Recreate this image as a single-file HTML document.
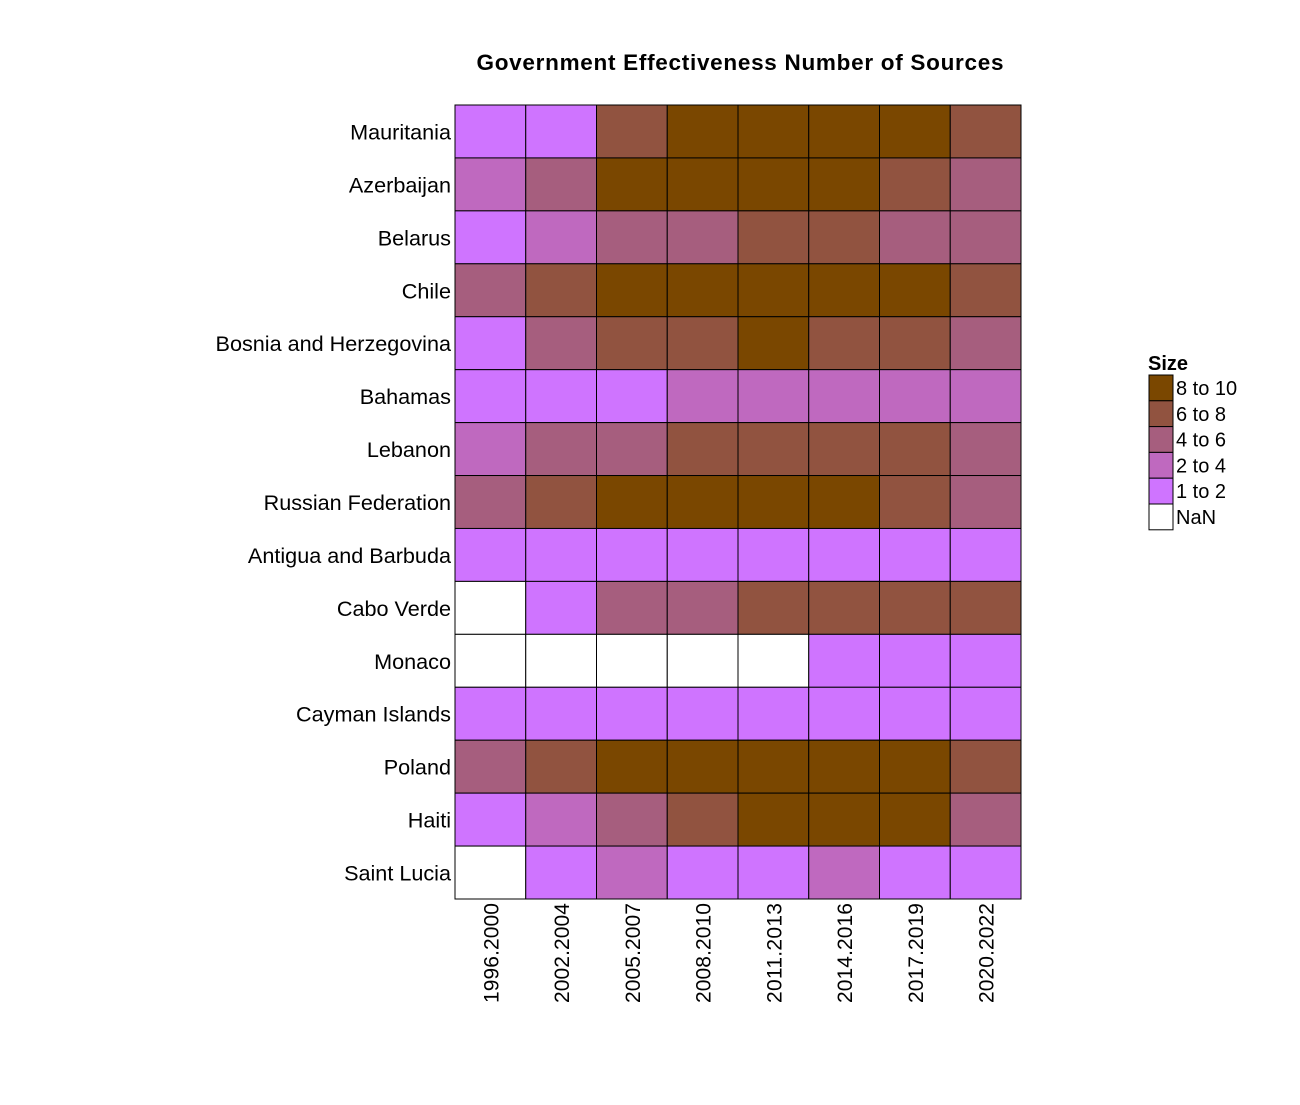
<!DOCTYPE html>
<html><head><meta charset="utf-8"><style>
body{margin:0;background:#fff;font-family:"Liberation Sans",Arial,sans-serif}
</style></head><body>
<svg id="c" width="1300" height="1100" xmlns="http://www.w3.org/2000/svg">
<text x="740" y="70" text-anchor="middle" font-size="22.5" font-weight="bold" textLength="527">Government Effectiveness Number of Sources</text>
<g id="cells"></g><g id="ylab"></g><g id="xlab"></g><g id="legend"></g>
</svg>
<script>
const countries=["Mauritania","Azerbaijan","Belarus","Chile","Bosnia and Herzegovina","Bahamas","Lebanon","Russian Federation","Antigua and Barbuda","Cabo Verde","Monaco","Cayman Islands","Poland","Haiti","Saint Lucia"];
const periods=["1996.2000","2002.2004","2005.2007","2008.2010","2011.2013","2014.2016","2017.2019","2020.2022"];
const N=NaN;
const values=[
[1.5,1.5,7,9,9,9,9,7],
[3,5,9,9,9,9,7,5],
[1.5,3,5,5,7,7,5,5],
[5,7,9,9,9,9,9,7],
[1.5,5,7,7,9,7,7,5],
[1.5,1.5,1.5,3,3,3,3,3],
[3,5,5,7,7,7,7,5],
[5,7,9,9,9,9,7,5],
[1.5,1.5,1.5,1.5,1.5,1.5,1.5,1.5],
[N,1.5,5,5,7,7,7,7],
[N,N,N,N,N,1.5,1.5,1.5],
[1.5,1.5,1.5,1.5,1.5,1.5,1.5,1.5],
[5,7,9,9,9,9,9,7],
[1.5,3,5,7,9,9,9,5],
[N,1.5,3,1.5,1.5,3,1.5,1.5]];
const legendLabels=["8 to 10","6 to 8","4 to 6","2 to 4","1 to 2","NaN"];
const colors=["#7a4700","#915340","#a65e7e","#bf69bf","#cf74ff","#ffffff"];
const NS="http://www.w3.org/2000/svg";
const x0=455,x1=1021,y0=105,y1=899;
const cw=(x1-x0)/periods.length,ch=(y1-y0)/countries.length;
const xs=i=>x0+i*cw, ys=j=>y0+j*ch;
function col(v){if(isNaN(v))return colors[5];if(v>=8)return colors[0];if(v>=6)return colors[1];if(v>=4)return colors[2];if(v>=2)return colors[3];return colors[4];}
function mk(t,a,p){const e=document.createElementNS(NS,t);for(const k in a)e.setAttribute(k,a[k]);p.appendChild(e);return e;}
const gc=document.getElementById('cells'),gy=document.getElementById('ylab'),gx=document.getElementById('xlab'),gl=document.getElementById('legend');
values.forEach((row,j)=>row.forEach((v,i)=>{
 const r=mk('rect',{x:xs(i),y:ys(j),width:cw,height:ch,fill:col(v),stroke:'#000','stroke-width':1},gc);
 
 
}));
countries.forEach((c,j)=>{const t=mk('text',{x:451,y:ys(j)+ch/2+8,'text-anchor':'end','font-size':21,transform:`translate(451 0) scale(1.03 1) translate(-451 0)`},gy);t.textContent=c;
 
 });
periods.forEach((p,i)=>{const cx=xs(i)+cw/2+8;const t=mk('text',{x:cx,y:903,'text-anchor':'end','font-size':21,transform:`rotate(-90 ${cx} 903)`,textLength:100},gx);t.textContent=p;
 
 });
const lt=mk('text',{x:1148,y:370,'font-size':20,'font-weight':'bold'},gl);lt.textContent="Size";


legendLabels.forEach((l,k)=>{const y=375+k*25.8;
 const r=mk('rect',{x:1149,y:y,width:24,height:25.8,fill:colors[k],stroke:'#000','stroke-width':1},gl);
 
 
 const t=mk('text',{x:1176,y:y+20,'font-size':20},gl);t.textContent=l;
 
 });
</script>
</body></html>
